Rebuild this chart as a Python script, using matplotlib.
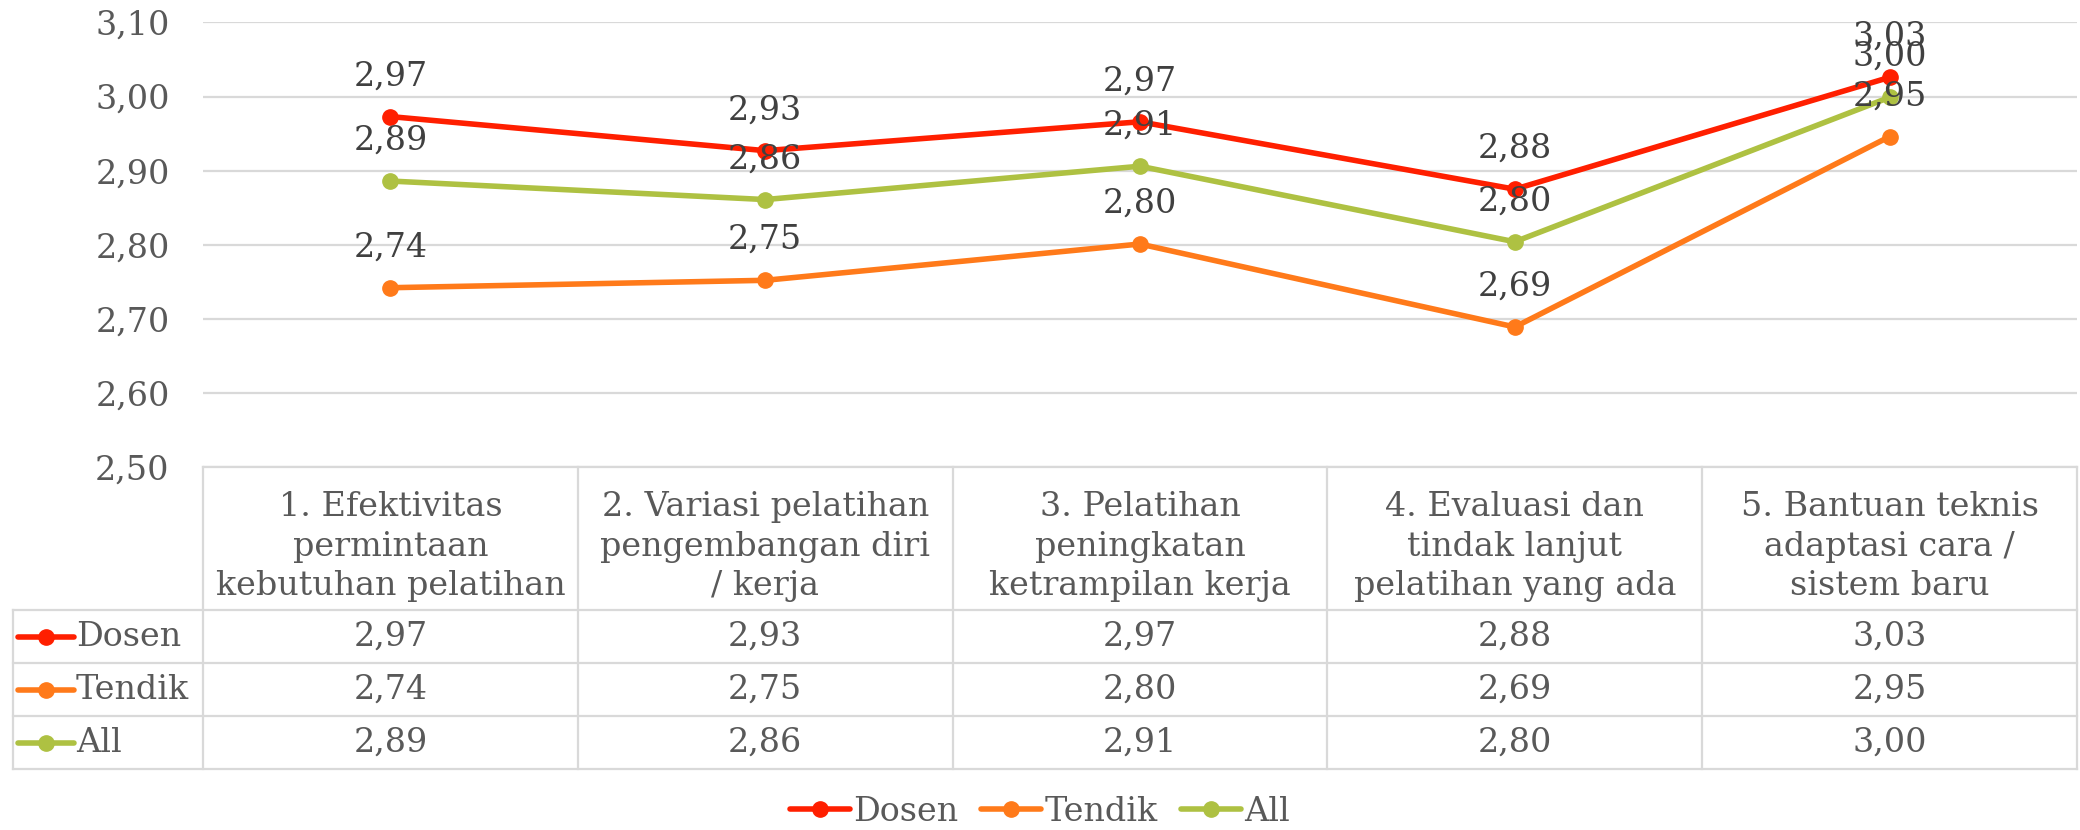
import matplotlib
matplotlib.use("Agg")
import matplotlib.pyplot as plt
from matplotlib.lines import Line2D

# data
categories = [
    "1. Efektivitas\npermintaan\nkebutuhan pelatihan",
    "2. Variasi pelatihan\npengembangan diri\n/ kerja",
    "3. Pelatihan\npeningkatan\nketrampilan kerja",
    "4. Evaluasi dan\ntindak lanjut\npelatihan yang ada",
    "5. Bantuan teknis\nadaptasi cara /\nsistem baru",
]
series_names = ["Dosen", "Tendik", "All"]
dosen = [2.973, 2.927, 2.966, 2.875, 3.026]
tendik = [2.742, 2.752, 2.801, 2.689, 2.946]
all_ = [2.886, 2.861, 2.906, 2.804, 2.999]
yticks = [2.50, 2.60, 2.70, 2.80, 2.90, 3.00, 3.10]

colors = ["#FF1F00", "#FF7A1A", "#AEC142"]
text_col = "#595959"
label_col = "#404040"
grid_col = "#D9D9D9"

plt.rcParams["font.family"] = ["DejaVu Serif"]
FS = 24
LW = 4.0
MS = 11

W, H = 2080, 830
fig = plt.figure(figsize=(W / 100, H / 100), dpi=100)

# pixel layout
x0, x1 = 203, 2077
y_top, y_bot = 22.5, 467
tab_left = 13
row_edges = [467, 610, 663, 716, 769]

ax = fig.add_axes([x0 / W, 1 - y_bot / H, (x1 - x0) / W, (y_bot - y_top) / H])
xs = list(range(len(categories)))
all_series = [dosen, tendik, all_]
for vals, c in zip(all_series, colors):
    ax.plot(xs, vals, color=c, lw=LW, marker="o", ms=MS, solid_capstyle="round")
for vals in all_series:
    for x, v in zip(xs, vals):
        ax.annotate(f"{v:.2f}".replace(".", ","), (x, v), xytext=(0, 29),
                    textcoords="offset points", ha="center", va="center",
                    fontsize=FS, color=label_col)

ax.set_xlim(-0.5, len(categories) - 0.5)
ax.set_ylim(2.50, 3.10)
ax.set_yticks(yticks)
ax.set_yticklabels([f"{t:.2f}".replace(".", ",") for t in yticks],
                   fontsize=FS, color=text_col)
ax.set_xticks([])
ax.tick_params(axis="y", length=0, pad=24)
ax.yaxis.grid(True, color=grid_col, lw=1.6)
ax.set_axisbelow(True)
for s in ax.spines.values():
    s.set_visible(False)

# data table below the plot
px_per_unit = (x1 - x0) / len(categories)
tx = fig.add_axes([tab_left / W, 1 - row_edges[-1] / H, (x1 - tab_left) / W,
                   (row_edges[-1] - row_edges[0]) / H])
tx.set_xlim(-0.5 - (x0 - tab_left) / px_per_unit, len(categories) - 0.5)
tx.set_ylim(row_edges[-1], row_edges[0])
tx.axis("off")
left_u = tx.get_xlim()[0]
lk = dict(color=grid_col, lw=1.6, clip_on=False)

# horizontal lines
tx.plot([-0.5, len(categories) - 0.5], [row_edges[0]] * 2, **lk)
for y in row_edges[1:]:
    tx.plot([left_u, len(categories) - 0.5], [y, y], **lk)
# vertical lines
for i in range(len(categories) + 1):
    tx.plot([i - 0.5, i - 0.5], [row_edges[0], row_edges[-1]], **lk)
tx.plot([left_u, left_u], [row_edges[1], row_edges[-1]], **lk)

for i, cat in enumerate(categories):
    tx.text(i, (row_edges[0] + row_edges[1]) / 2 + 8, cat, ha="center", va="center",
            fontsize=FS, color=text_col, linespacing=1.3)

for r, (name, vals, c) in enumerate(zip(series_names, all_series, colors)):
    yc = (row_edges[r + 1] + row_edges[r + 2]) / 2
    kx0 = left_u + 5 / px_per_unit
    kx1 = left_u + 61 / px_per_unit
    tx.plot([kx0, kx1], [yc, yc], color=c, lw=LW, solid_capstyle="round")
    tx.plot([(kx0 + kx1) / 2], [yc], "o", color=c, ms=MS)
    tx.text(left_u + 63 / px_per_unit, yc, name, ha="left", va="center",
            fontsize=FS, color=text_col)
    for i, v in enumerate(vals):
        tx.text(i, yc, f"{v:.2f}".replace(".", ","), ha="center", va="center",
                fontsize=FS, color=text_col)

# bottom legend
handles = [Line2D([0], [0], color=c, lw=LW, marker="o", ms=MS, solid_capstyle="round")
           for c in colors]
leg = fig.legend(handles, series_names, loc="center", bbox_to_anchor=(0.5, 1 - 812 / H),
                 ncol=3, frameon=False, fontsize=FS, handlelength=1.8,
                 handletextpad=0.1, columnspacing=0.7)
for t in leg.get_texts():
    t.set_color(text_col)

fig.savefig("out.png", dpi=100, facecolor="white")
